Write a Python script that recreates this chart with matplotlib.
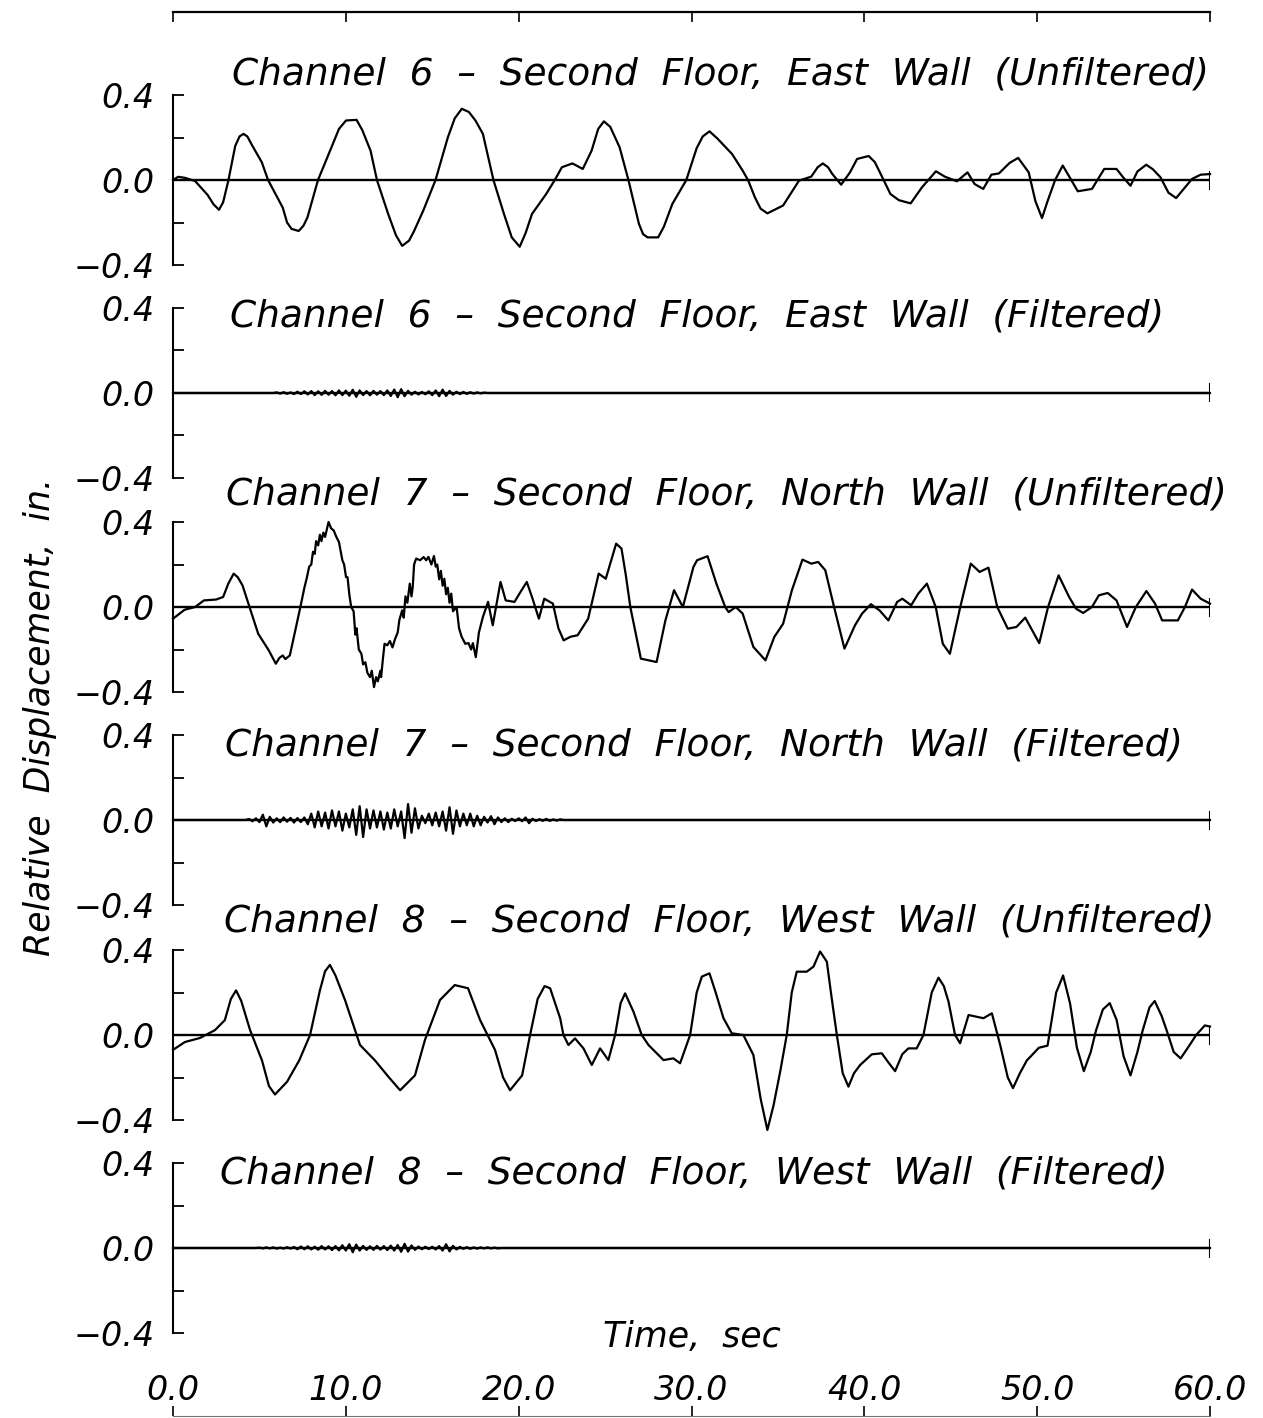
import numpy as np
import matplotlib
matplotlib.use('Agg')
import matplotlib.pyplot as plt
import matplotlib.transforms as mtransforms

plt.rcParams['font.family'] = ['DejaVu Sans']
plt.rcParams['font.style'] = 'italic'

# ---- data: (time sec, relative displacement in.) ----
ch6_raw = [(0, 0), (0.3, 0.015), (0.7, 0.01), (1.28, -0.005), (2.0, -0.07), (2.35, -0.115),
           (2.66, -0.14), (2.9, -0.105), (3.21, 0), (3.6, 0.16), (3.85, 0.205), (4.08, 0.217),
           (4.3, 0.205), (4.6, 0.16), (5.14, 0.083), (5.5, 0), (6.35, -0.13), (6.6, -0.2),
           (6.86, -0.23), (7.27, -0.24), (7.55, -0.215), (7.78, -0.176), (8.39, 0), (9.2, 0.16),
           (9.6, 0.24), (10.01, 0.28), (10.62, 0.283), (10.95, 0.235), (11.43, 0.138),
           (11.8, 0), (12.45, -0.16), (12.9, -0.26), (13.26, -0.31), (13.66, -0.285),
           (13.95, -0.24), (14.48, -0.144), (15.19, 0), (15.9, 0.2), (16.3, 0.29),
           (16.71, 0.335), (17.12, 0.32), (17.5, 0.28), (17.93, 0.217), (18.54, 0),
           (19.15, -0.16), (19.6, -0.27), (20.06, -0.314), (20.4, -0.25), (20.77, -0.16),
           (21.59, -0.066), (22.09, 0), (22.5, 0.06), (23.11, 0.078), (23.71, 0.052),
           (24.22, 0.138), (24.6, 0.24), (24.93, 0.276), (25.3, 0.25), (25.84, 0.154),
           (26.35, 0), (26.96, -0.207), (27.2, -0.255), (27.46, -0.27), (28.07, -0.27),
           (28.4, -0.22), (28.89, -0.113), (29.7, 0), (30.3, 0.15), (30.65, 0.205),
           (31.04, 0.229), (31.5, 0.195), (32.35, 0.122), (32.96, 0.044), (33.27, 0),
           (33.67, -0.082), (34.0, -0.135), (34.39, -0.157), (35.3, -0.12), (36.22, -0.003),
           (36.93, 0.016), (37.3, 0.06), (37.6, 0.078), (37.9, 0.06), (38.15, 0.028),
           (38.66, -0.022), (39.17, 0.036), (39.58, 0.099), (40.25, 0.113), (40.6, 0.085),
           (40.9, 0.036), (41.51, -0.066), (42.0, -0.095), (42.68, -0.11), (43.33, -0.035),
           (44.14, 0.041), (44.65, 0.016), (45.36, -0.006), (45.97, 0.036), (46.38, -0.019),
           (46.88, -0.042), (47.35, 0.025), (47.79, 0.031), (48.4, 0.08), (48.9, 0.104),
           (49.51, 0.036), (49.9, -0.1), (50.28, -0.179), (50.6, -0.1), (51.04, 0),
           (51.48, 0.068), (51.9, 0.01), (52.35, -0.053), (53.17, -0.042), (53.88, 0.052),
           (54.59, 0.052), (55.0, 0.01), (55.4, -0.027), (55.8, 0.04), (56.31, 0.072),
           (56.7, 0.05), (57.13, 0.013), (57.6, -0.06), (58.04, -0.085), (58.5, -0.04),
           (58.96, 0.005), (59.46, 0.025), (60, 0.028)]

ch7_raw = [(0, -0.055), (0.67, -0.013), (1.28, 0), (1.79, 0.031), (2.49, 0.035), (2.9, 0.047),
           (3.2, 0.11), (3.51, 0.157), (3.75, 0.14), (4.02, 0.102), (4.43, 0), (4.93, -0.126),
           (5.54, -0.204), (5.95, -0.267), (6.15, -0.24), (6.35, -0.228), (6.5, -0.245),
           (6.76, -0.228), (7.05, -0.12), (7.37, 0), (7.6, 0.09), (7.75, 0.14), (7.88, 0.19),
           (8.0, 0.2), (8.1, 0.26), (8.2, 0.25), (8.28, 0.31), (8.4, 0.29), (8.5, 0.34),
           (8.59, 0.31), (8.7, 0.35), (8.8, 0.33), (9.0, 0.40), (9.15, 0.37), (9.3, 0.36),
           (9.45, 0.33), (9.6, 0.306), (9.8, 0.22), (9.9, 0.2), (10.01, 0.141), (10.1, 0.14),
           (10.2, 0.06), (10.31, 0), (10.45, -0.02), (10.55, -0.13), (10.62, -0.1),
           (10.75, -0.2), (10.9, -0.22), (11.0, -0.27), (11.13, -0.26), (11.25, -0.31),
           (11.4, -0.33), (11.5, -0.3), (11.63, -0.377), (11.75, -0.33), (11.85, -0.35),
           (12.0, -0.3), (12.04, -0.33), (12.15, -0.24), (12.24, -0.173), (12.4, -0.18),
           (12.55, -0.16), (12.7, -0.19), (12.85, -0.15), (13.0, -0.12), (13.1, -0.06),
           (13.26, -0.016), (13.35, -0.05), (13.45, 0.05), (13.56, 0.02), (13.7, 0.11),
           (13.8, 0.05), (13.87, 0.094), (13.95, 0.2), (14.07, 0.228), (14.3, 0.22),
           (14.5, 0.235), (14.65, 0.22), (14.78, 0.236), (14.95, 0.2), (15.1, 0.24),
           (15.2, 0.19), (15.29, 0.2), (15.4, 0.13), (15.5, 0.17), (15.6, 0.1), (15.7, 0.133),
           (15.8, 0.06), (15.9, 0.09), (16.0, 0.02), (16.1, 0.063), (16.2, -0.02), (16.41, 0),
           (16.55, -0.1), (16.7, -0.14), (16.91, -0.173), (17.1, -0.17), (17.25, -0.2),
           (17.35, -0.17), (17.52, -0.236), (17.7, -0.12), (17.93, -0.047), (18.23, 0.024),
           (18.5, -0.086), (18.95, 0.118), (19.25, 0.031), (19.76, 0.024), (20.1, 0.07),
           (20.47, 0.118), (20.8, 0.04), (21.17, -0.055), (21.48, 0.039), (21.98, 0.016),
           (22.3, -0.1), (22.6, -0.157), (23.0, -0.14), (23.41, -0.133), (24.02, -0.055),
           (24.63, 0.157), (25.04, 0.133), (25.64, 0.298), (25.95, 0.275), (26.2, 0.15),
           (26.46, 0), (27.07, -0.243), (27.98, -0.259), (28.49, -0.063), (28.99, 0.079),
           (29.5, 0), (30.11, 0.188), (30.32, 0.22), (30.93, 0.239), (31.44, 0.11),
           (31.95, 0), (32.15, -0.024), (32.56, 0), (32.96, -0.031), (33.58, -0.188),
           (34.28, -0.251), (34.79, -0.141), (35.3, -0.079), (35.81, 0.079), (36.42, 0.223),
           (36.93, 0.204), (37.33, 0.212), (37.74, 0.173), (38.25, 0), (38.85, -0.196),
           (39.46, -0.086), (39.87, -0.031), (40.38, 0.013), (40.88, -0.016), (41.39, -0.063),
           (41.9, 0.024), (42.2, 0.039), (42.71, 0.008), (43.12, 0.063), (43.62, 0.11),
           (44.13, 0), (44.54, -0.173), (44.95, -0.22), (45.55, 0), (46.16, 0.204),
           (46.67, 0.165), (47.18, 0.185), (47.69, 0), (48.3, -0.102), (48.8, -0.094),
           (49.31, -0.05), (50.12, -0.17), (50.63, 0), (51.24, 0.149), (51.85, 0.047),
           (52.25, -0.008), (52.66, -0.028), (53.17, 0), (53.57, 0.055), (54.08, 0.066),
           (54.59, 0.031), (55.2, -0.094), (55.71, 0), (56.32, 0.075), (56.82, 0.016),
           (57.23, -0.063), (58.14, -0.063), (58.55, 0), (58.96, 0.082), (59.46, 0.039),
           (60, 0.016)]

ch8_raw = [(0, -0.07), (0.69, -0.033), (1.56, -0.014), (2.43, 0.023), (3.0, 0.07),
           (3.35, 0.17), (3.65, 0.21), (3.95, 0.16), (4.46, 0.023), (5.15, -0.12),
           (5.55, -0.24), (5.9, -0.28), (6.6, -0.22), (7.3, -0.12), (7.93, 0), (8.5, 0.21),
           (8.8, 0.3), (9.08, 0.33), (9.4, 0.28), (9.95, 0.165), (10.82, -0.047),
           (11.69, -0.12), (12.5, -0.2), (13.14, -0.26), (14.0, -0.19), (14.58, -0.023),
           (15.45, 0.165), (16.3, 0.235), (17.07, 0.22), (17.77, 0.07), (18.63, -0.07),
           (19.1, -0.2), (19.5, -0.26), (20.2, -0.19), (20.66, 0), (21.1, 0.17), (21.5, 0.23),
           (21.82, 0.22), (22.4, 0.079), (22.59, 0), (22.88, -0.047), (23.26, -0.016),
           (23.75, -0.063), (24.23, -0.141), (24.71, -0.063), (25.19, -0.118), (25.58, 0),
           (25.9, 0.15), (26.16, 0.196), (26.64, 0.11), (27.12, 0), (27.51, -0.047),
           (28.38, -0.118), (28.95, -0.11), (29.34, -0.133), (29.92, 0), (30.3, 0.2),
           (30.6, 0.275), (31.04, 0.29), (31.4, 0.2), (31.85, 0.079), (32.33, 0.008),
           (33.0, 0), (33.58, -0.094), (34.0, -0.3), (34.39, -0.447), (34.75, -0.33),
           (35.13, -0.173), (35.51, 0), (35.8, 0.2), (36.09, 0.298), (36.67, 0.298),
           (37.06, 0.322), (37.44, 0.393), (37.83, 0.345), (38.1, 0.18), (38.41, 0),
           (38.75, -0.18), (39.08, -0.243), (39.4, -0.18), (39.76, -0.141), (40.43, -0.091),
           (41.01, -0.086), (41.4, -0.13), (41.78, -0.17), (42.2, -0.09), (42.55, -0.063),
           (43.03, -0.063), (43.42, 0), (43.9, 0.2), (44.29, 0.27), (44.6, 0.23),
           (44.87, 0.157), (45.25, 0), (45.54, -0.039), (46.03, 0.094), (46.89, 0.079),
           (47.38, 0.102), (47.86, -0.047), (48.3, -0.2), (48.6, -0.25), (49.0, -0.18),
           (49.4, -0.12), (50.1, -0.06), (50.6, -0.05), (51.1, 0.2), (51.5, 0.28),
           (51.9, 0.15), (52.3, -0.06), (52.7, -0.17), (53.1, -0.08), (53.4, 0.02),
           (53.8, 0.12), (54.2, 0.15), (54.6, 0.07), (55.0, -0.1), (55.4, -0.19),
           (55.8, -0.08), (56.1, 0.02), (56.5, 0.13), (56.8, 0.16), (57.2, 0.09), (57.5, 0.02),
           (57.9, -0.08), (58.3, -0.11), (58.8, -0.05), (59.2, 0.0), (59.7, 0.045), (60, 0.04)]

# filtered records: quiet except a burst of small high-frequency motion
ch6_filt_t0, ch6_filt_dt = 6.0, 0.2
ch6_filt_v = [0.003, -0.003, 0.004, -0.004, 0.003, -0.005, 0.006, -0.005,
              0.008, -0.007, 0.009, -0.01, 0.008, -0.009, 0.01, -0.008,
              0.009, -0.011, 0.012, -0.01, 0.011, -0.013, 0.015, -0.018,
              0.012, -0.01, 0.009, -0.011, 0.01, -0.008, 0.009, -0.01,
              0.012, -0.014, 0.016, -0.02, 0.018, -0.015, 0.01, -0.008,
              0.006, -0.007, 0.005, -0.006, 0.008, -0.01, 0.012, -0.015,
              0.016, -0.014, 0.01, -0.008, 0.006, -0.005, 0.005, -0.004,
              0.004, -0.003, 0.003, -0.002, 0.002]

ch7_filt_t0, ch7_filt_dt = 4.4, 0.2
ch7_filt_v = [0.005, -0.006, 0.008, -0.01,
              0.025, -0.03, 0.015, -0.012,
              0.008, -0.01, 0.012, -0.008, 0.01, -0.012, 0.009, -0.01, 0.012,
              -0.02, 0.03, -0.035, 0.04, -0.03, 0.035, -0.04,
              0.045, -0.03, 0.04, -0.05, 0.03, -0.035, 0.05,
              -0.07, 0.065, -0.08, 0.05, -0.04, 0.045, -0.035,
              0.04, -0.045, 0.035, -0.04, 0.05, -0.03, 0.04,
              -0.085, 0.075, -0.06, 0.055, -0.04,
              0.02, -0.015, 0.03, -0.025, 0.035, -0.03,
              0.04, -0.05, 0.06, -0.065, 0.045, -0.03,
              0.03, -0.025, 0.03, -0.03, 0.02, -0.025, 0.015,
              -0.012, 0.018, -0.02, 0.012, -0.01, 0.008, -0.01,
              0.006, -0.005, 0.008, -0.006, 0.012, -0.015, 0.006, -0.005, 0.004, -0.004,
              0.005, -0.004, 0.003, -0.003, 0.003]

ch8_filt_t0, ch8_filt_dt = 5.0, 0.2
ch8_filt_v = [0.002, -0.002, 0.003, -0.002, 0.003, -0.003, 0.002, -0.003, 0.004, -0.003,
              0.005, -0.006, 0.007, -0.006, 0.008, -0.007, 0.006, -0.008, 0.009, -0.007,
              0.008, -0.01, 0.009, -0.011, 0.013, -0.012, 0.018, -0.02, 0.016, -0.012,
              0.01, -0.009, 0.008, -0.009, 0.01, -0.008, 0.009, -0.01, 0.011, -0.012,
              0.014, -0.018, 0.02, -0.017, 0.012, -0.009, 0.007, -0.006, 0.006, -0.005,
              0.006, -0.007, 0.009, -0.012, 0.018, -0.016, 0.01, -0.007, 0.005, -0.004,
              0.004, -0.004, 0.003, -0.003, 0.003, -0.002, 0.003, -0.002, 0.002, -0.002]

titles = ['Channel  6  \u2013  Second  Floor,  East  Wall  (Unfiltered)',
          'Channel  6  \u2013  Second  Floor,  East  Wall  (Filtered)',
          'Channel  7  \u2013  Second  Floor,  North  Wall  (Unfiltered)',
          'Channel  7  \u2013  Second  Floor,  North  Wall  (Filtered)',
          'Channel  8  \u2013  Second  Floor,  West  Wall  (Unfiltered)',
          'Channel  8  \u2013  Second  Floor,  West  Wall  (Filtered)']

x_ticks = [0, 10, 20, 30, 40, 50, 60]
y_ticks = [-0.4, -0.2, 0.0, 0.2, 0.4]
y_ticklabels = ['\u22120.4', '', '0.0', '', '0.4']


def raw_series(pairs):
    t, v = zip(*pairs)
    return list(t), list(v)


def filtered_series(t0, dt, vals):
    t = t0 + dt * np.arange(len(vals))
    t = np.concatenate([[0.0, t0 - dt], t, [t[-1] + dt, 60.0]])
    v = np.concatenate([[0.0, 0.0], vals, [0.0, 0.0]])
    return t, v


series = [
    raw_series(ch6_raw),
    filtered_series(ch6_filt_t0, ch6_filt_dt, ch6_filt_v),
    raw_series(ch7_raw),
    filtered_series(ch7_filt_t0, ch7_filt_dt, ch7_filt_v),
    raw_series(ch8_raw),
    filtered_series(ch8_filt_t0, ch8_filt_dt, ch8_filt_v),
]

W, H = 1263, 1418
fig = plt.figure(figsize=(W / 100, H / 100), dpi=100)

left_px, right_px = 173, 1210
panel_top_px = [95, 308, 522, 735, 950, 1163]
panel_h_px = 170
# title placement: left edge in seconds, vertical pos in axes fraction
title_pos = [(3.4, 1.12), (3.3, 0.95), (3.05, 1.16), (3.0, 0.94), (2.95, 1.165), (2.72, 0.94)]

# outer frame: top border with ticks, bottom border with time labels
frame = fig.add_axes([left_px / W, 1 - 1416 / H, (right_px - left_px) / W, (1416 - 12) / H])
frame.set_xlim(0, 60)
frame.set_ylim(0, 1)
frame.patch.set_alpha(0)
for s in ['left', 'right']:
    frame.spines[s].set_visible(False)
frame.spines['top'].set_linewidth(1.6)
frame.spines['bottom'].set_linewidth(0.8)
frame.spines['bottom'].set_color('0.45')
frame.set_yticks([])
frame.set_xticks(x_ticks)
frame.set_xticklabels(['%.1f' % x for x in x_ticks])
frame.tick_params(axis='x', which='both', top=True, bottom=True, direction='in',
                  length=7, width=1.2, labelsize=24, pad=-30)

for i, (t, v) in enumerate(series):
    top = panel_top_px[i]
    ax = fig.add_axes([left_px / W, 1 - (top + panel_h_px) / H,
                       (right_px - left_px) / W, panel_h_px / H])
    ax.patch.set_alpha(0)
    ax.set_xlim(0, 60)
    ax.set_ylim(-0.4, 0.4)
    for s in ['top', 'right', 'bottom']:
        ax.spines[s].set_visible(False)
    ax.spines['left'].set_linewidth(1.5)
    ax.set_xticks([])
    ax.set_yticks(y_ticks)
    ax.set_yticklabels(y_ticklabels)
    ax.tick_params(axis='y', direction='in', length=8, width=1.3, labelsize=24, pad=13)

    ax.axhline(0, color='black', lw=1.7, zorder=2)
    ax.axvline(60, ymin=0.45, ymax=0.55, color='black', lw=1.5)
    ax.plot(t, v, color='black', lw=1.6, clip_on=False, zorder=3, solid_joinstyle='round')

    tx, ty = title_pos[i]
    trans = mtransforms.blended_transform_factory(ax.transData, ax.transAxes)
    ax.text(tx, ty, titles[i], transform=trans, ha='left', va='center', fontsize=27)

fig.text(692 / W, 1 - 1337 / H, 'Time,  sec', ha='center', va='center', fontsize=25)
fig.text(40 / W, 1 - 717 / H, 'Relative  Displacement,  in.', ha='center', va='center',
         rotation=90, fontsize=25)

fig.savefig('out.png', dpi=100)
